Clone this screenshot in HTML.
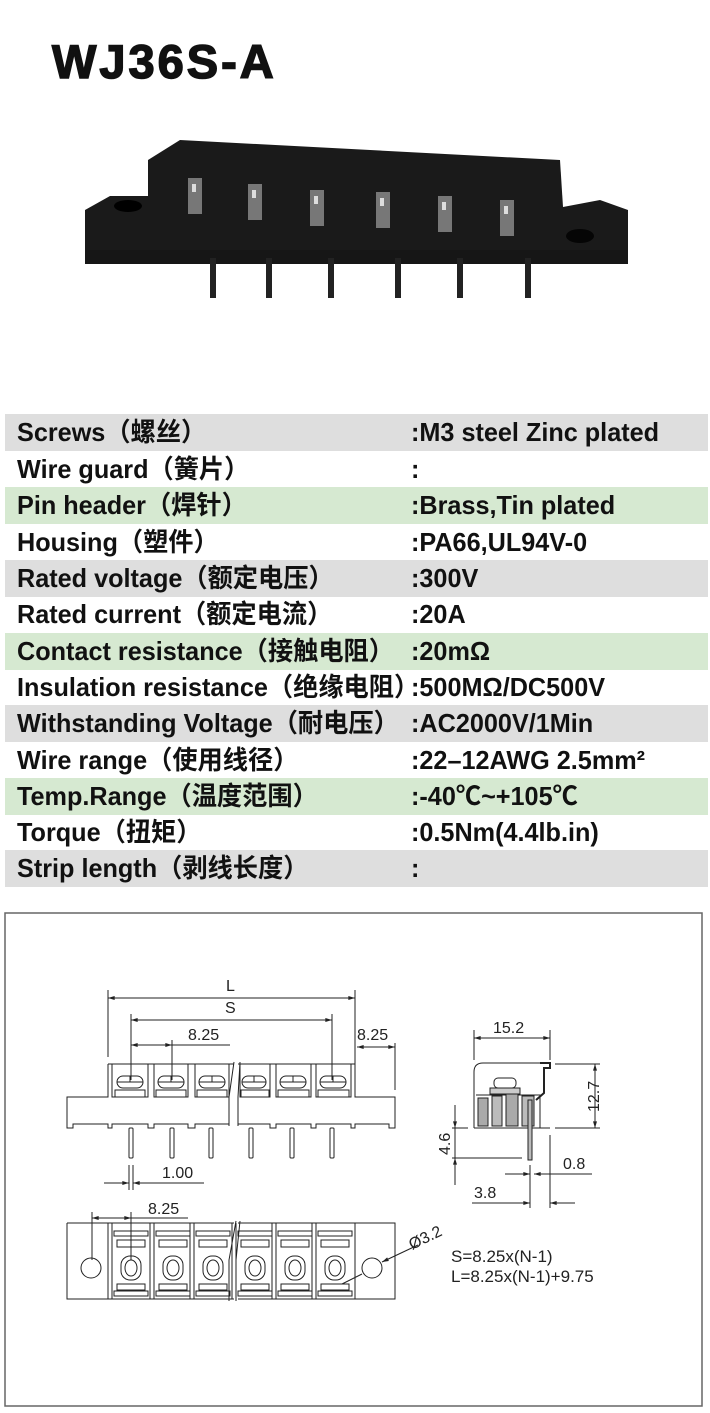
<!DOCTYPE html>
<html><head><meta charset="utf-8"><style>
body{margin:0;width:710px;height:1413px;background:#fff;position:relative;overflow:hidden;font-family:"Liberation Sans","Noto Sans CJK SC",sans-serif}
.t{position:absolute;left:52px;top:34px;font-weight:bold;font-size:47px;letter-spacing:3px;color:#111;-webkit-text-stroke:1.5px #111}
.row{position:absolute;left:5px;width:703px;height:37px;font-size:26px;color:#111}
.row span{position:absolute;top:0;line-height:37px;height:37px;white-space:nowrap;transform:scaleX(0.97);transform-origin:left;font-weight:bold}
.a{left:12px}.b{left:406px}
.g{background:#dedede}.n{background:#d6e9d1}
</style></head><body>
<div class="t">WJ36S-A</div>
<div class="row g" style="top:414px"><span class="a">Screws（螺丝）</span><span class="b">:M3 steel Zinc plated</span></div>
<div class="row" style="top:451px"><span class="a">Wire guard（簧片）</span><span class="b">:</span></div>
<div class="row n" style="top:487px"><span class="a">Pin header（焊针）</span><span class="b">:Brass,Tin plated</span></div>
<div class="row" style="top:524px"><span class="a">Housing（塑件）</span><span class="b">:PA66,UL94V-0</span></div>
<div class="row g" style="top:560px"><span class="a">Rated voltage（额定电压）</span><span class="b">:300V</span></div>
<div class="row" style="top:596px"><span class="a">Rated current（额定电流）</span><span class="b">:20A</span></div>
<div class="row n" style="top:633px"><span class="a">Contact resistance（接触电阻）</span><span class="b">:20mΩ</span></div>
<div class="row" style="top:669px"><span class="a">Insulation resistance（绝缘电阻）</span><span class="b">:500MΩ/DC500V</span></div>
<div class="row g" style="top:705px"><span class="a">Withstanding Voltage（耐电压）</span><span class="b">:AC2000V/1Min</span></div>
<div class="row" style="top:742px"><span class="a">Wire range（使用线径）</span><span class="b">:22–12AWG 2.5mm²</span></div>
<div class="row n" style="top:778px"><span class="a">Temp.Range（温度范围）</span><span class="b">:-40℃~+105℃</span></div>
<div class="row" style="top:814px"><span class="a">Torque（扭矩）</span><span class="b">:0.5Nm(4.4lb.in)</span></div>
<div class="row g" style="top:850px"><span class="a">Strip length（剥线长度）</span><span class="b">:</span></div>

<svg width="710" height="1413" style="position:absolute;left:0;top:0" xmlns="http://www.w3.org/2000/svg">
<defs><marker id="ar" viewBox="0 0 10 6" refX="10" refY="3" markerWidth="8" markerHeight="4" orient="auto-start-reverse"><path d="M0,0L10,3L0,6z" fill="#222"/></marker></defs>
<g fill="#1a1a1a">
<polygon points="85,210 110,196 148,196 148,207 563,207 600,200 628,210 628,263 85,263"/>
<polygon points="148,207 148,160 180,140 560,160 563,207"/>
<rect x="85" y="250" width="543" height="14" fill="#161616"/>
<g fill="#222"><rect x="210" y="258" width="6" height="40"/><rect x="266" y="258" width="6" height="40"/><rect x="328" y="258" width="6" height="40"/><rect x="395" y="258" width="6" height="40"/><rect x="457" y="258" width="6" height="40"/><rect x="525" y="258" width="6" height="40"/></g>
<ellipse cx="128" cy="206" rx="14" ry="6" fill="#000"/><ellipse cx="580" cy="236" rx="14" ry="7" fill="#050505"/>
</g>
<g fill="#777">
<rect x="188" y="178" width="14" height="36"/><rect x="248" y="184" width="14" height="36"/><rect x="310" y="190" width="14" height="36"/><rect x="376" y="192" width="14" height="36"/><rect x="438" y="196" width="14" height="36"/><rect x="500" y="200" width="14" height="36"/>
</g>
<g fill="#ddd"><rect x="192" y="184" width="4" height="8"/><rect x="252" y="190" width="4" height="8"/><rect x="314" y="196" width="4" height="8"/><rect x="380" y="198" width="4" height="8"/><rect x="442" y="202" width="4" height="8"/><rect x="504" y="206" width="4" height="8"/></g>

<rect x="5" y="913" width="697" height="493" fill="none" stroke="#666" stroke-width="1.5"/>
<g stroke="#222" stroke-width="1" fill="none" font-family="Liberation Sans,sans-serif">
<line x1="108" y1="990" x2="108" y2="1057"/><line x1="355" y1="990" x2="355" y2="1064"/>
<line x1="108" y1="998" x2="355" y2="998" marker-start="url(#ar)" marker-end="url(#ar)"/>
<line x1="131" y1="1014" x2="131" y2="1080"/><line x1="332" y1="1014" x2="332" y2="1080"/>
<line x1="131" y1="1020" x2="332" y2="1020" marker-start="url(#ar)" marker-end="url(#ar)"/>
<line x1="172" y1="1040" x2="172" y2="1080"/>
<line x1="131" y1="1045" x2="172" y2="1045" marker-start="url(#ar)" marker-end="url(#ar)"/><line x1="172" y1="1045" x2="230" y2="1045"/>
<line x1="395" y1="1043" x2="395" y2="1090"/>
<line x1="357" y1="1047" x2="395" y2="1047" marker-start="url(#ar)" marker-end="url(#ar)"/>
<path d="M108,1064V1097H67V1128H73V1124H108V1128H112V1124H148V1128H154V1124H188V1128H195V1124H229"/>
<path d="M238,1124H270V1128H276V1124H311V1128H316V1124H351V1128H355V1124H389V1128H395V1097H355V1064"/>
<path d="M108,1064H234 M238,1064H355"/>
<path d="M234,1062L229,1097V1126 M240,1062L238,1097V1126"/>
<g>
<rect x="112" y="1064" width="36" height="33"/><rect x="154" y="1064" width="34" height="33"/><rect x="195" y="1064" width="34" height="33"/>
<rect x="240" y="1064" width="30" height="33"/><rect x="276" y="1064" width="35" height="33"/><rect x="316" y="1064" width="35" height="33"/>
</g>
<g>
<rect x="117" y="1076" width="26" height="12" rx="6"/><line x1="117" y1="1082" x2="143" y2="1082"/><line x1="130" y1="1076" x2="130" y2="1082"/><rect x="115" y="1090" width="30" height="7"/>
<rect x="158" y="1076" width="26" height="12" rx="6"/><line x1="158" y1="1082" x2="184" y2="1082"/><line x1="171" y1="1076" x2="171" y2="1082"/><rect x="156" y="1090" width="30" height="7"/>
<rect x="199" y="1076" width="26" height="12" rx="6"/><line x1="199" y1="1082" x2="225" y2="1082"/><line x1="212" y1="1076" x2="212" y2="1082"/><rect x="197" y="1090" width="30" height="7"/>
<rect x="242" y="1076" width="24" height="12" rx="6"/><line x1="242" y1="1082" x2="266" y2="1082"/><line x1="254" y1="1076" x2="254" y2="1082"/><rect x="241" y="1090" width="28" height="7"/>
<rect x="280" y="1076" width="26" height="12" rx="6"/><line x1="280" y1="1082" x2="306" y2="1082"/><line x1="293" y1="1076" x2="293" y2="1082"/><rect x="278" y="1090" width="31" height="7"/>
<rect x="320" y="1076" width="26" height="12" rx="6"/><line x1="320" y1="1082" x2="346" y2="1082"/><line x1="333" y1="1076" x2="333" y2="1082"/><rect x="318" y="1090" width="31" height="7"/>
</g>
<g>
<rect x="129" y="1128" width="4" height="30" rx="1"/><rect x="170" y="1128" width="4" height="30" rx="1"/><rect x="209" y="1128" width="4" height="30" rx="1"/>
<rect x="249" y="1128" width="4" height="30" rx="1"/><rect x="290" y="1128" width="4" height="30" rx="1"/><rect x="330" y="1128" width="4" height="30" rx="1"/>
</g>
<line x1="129" y1="1165" x2="129" y2="1190"/><line x1="133" y1="1165" x2="133" y2="1190"/>
<line x1="104" y1="1183" x2="129" y2="1183" marker-end="url(#ar)"/><line x1="155" y1="1183" x2="133" y2="1183" marker-end="url(#ar)"/><line x1="155" y1="1183" x2="204" y2="1183"/>
<line x1="92" y1="1212" x2="92" y2="1260"/><line x1="131" y1="1212" x2="131" y2="1260"/>
<line x1="92" y1="1218" x2="131" y2="1218" marker-start="url(#ar)" marker-end="url(#ar)"/><line x1="131" y1="1218" x2="188" y2="1218"/>
<path d="M67,1223H234 M238,1223H395V1299H238 M234,1299H67V1223"/>
<path d="M236,1221L229,1260V1301 M240,1221L236,1260V1301"/>
<ellipse cx="91" cy="1268" rx="10" ry="10"/><ellipse cx="372" cy="1268" rx="10" ry="10"/>
<g id="c">
<line x1="108" y1="1223" x2="108" y2="1299"/><line x1="112" y1="1223" x2="112" y2="1299"/>
<rect x="114" y="1231" width="34" height="5"/><rect x="117" y="1240" width="28" height="7"/><rect x="117" y="1284" width="28" height="6"/><rect x="114" y="1291" width="34" height="5"/>
<rect x="121" y="1256" width="20" height="24" rx="9"/><ellipse cx="131" cy="1268" rx="6" ry="8"/>
</g>
<use href="#c" x="42"/><use href="#c" x="82"/><use href="#c" x="124" /><use href="#c" x="164"/><use href="#c" x="204"/>
<line x1="355" y1="1223" x2="355" y2="1299"/>
<line x1="418" y1="1245" x2="382" y2="1262" marker-end="url(#ar)"/><line x1="362" y1="1274" x2="342" y2="1284"/>
<line x1="474" y1="1030" x2="474" y2="1060"/><line x1="550" y1="1030" x2="550" y2="1060"/>
<line x1="474" y1="1038" x2="550" y2="1038" marker-start="url(#ar)" marker-end="url(#ar)"/>
<path d="M474,1128V1072Q474,1063 483,1063H540"/><line x1="474" y1="1128" x2="550" y2="1128"/>
<path d="M540,1063H550V1068H544V1093L536,1100" stroke-width="2"/>
<path d="M476,1095H540V1128" />
<rect x="478" y="1098" width="10" height="28" fill="#aaa" stroke="#222"/><rect x="492" y="1096" width="10" height="30" fill="#bbb"/><rect x="506" y="1092" width="12" height="34" fill="#aaa"/><rect x="522" y="1096" width="12" height="30" fill="#bbb"/>
<rect x="494" y="1078" width="22" height="10" rx="4"/><rect x="490" y="1088" width="30" height="6" fill="#ccc"/>
<rect x="528" y="1100" width="4" height="60" fill="#bbb"/>
<line x1="555" y1="1064" x2="600" y2="1064"/><line x1="555" y1="1128" x2="600" y2="1128"/>
<line x1="595" y1="1064" x2="595" y2="1128" marker-start="url(#ar)" marker-end="url(#ar)"/>
<line x1="455" y1="1105" x2="455" y2="1128" marker-end="url(#ar)"/><line x1="455" y1="1158" x2="455" y2="1185" marker-start="url(#ar)"/><line x1="455" y1="1128" x2="455" y2="1158"/>
<line x1="452" y1="1128" x2="468" y2="1128"/><line x1="452" y1="1158" x2="522" y2="1158"/>
<line x1="530" y1="1165" x2="530" y2="1208"/><line x1="550" y1="1135" x2="550" y2="1208"/>
<line x1="505" y1="1174" x2="530" y2="1174" marker-end="url(#ar)"/><line x1="592" y1="1174" x2="534" y2="1174" marker-end="url(#ar)"/>
<line x1="472" y1="1203" x2="530" y2="1203" marker-end="url(#ar)"/><line x1="575" y1="1203" x2="550" y2="1203" marker-end="url(#ar)"/>
</g>
<g font-family="Liberation Sans,sans-serif" font-size="16" fill="#222">
<text x="226" y="991">L</text><text x="225" y="1013">S</text>
<text x="188" y="1040">8.25</text><text x="357" y="1040">8.25</text>
<text x="162" y="1178">1.00</text><text x="148" y="1214">8.25</text>
<text x="493" y="1033">15.2</text>
<text x="0" y="0" transform="translate(599,1112) rotate(-90)">12.7</text>
<text x="0" y="0" transform="translate(450,1155) rotate(-90)">4.6</text>
<text x="563" y="1169">0.8</text><text x="474" y="1198">3.8</text>
<text x="0" y="0" transform="translate(412,1250) rotate(-26)">Ø3.2</text>
<text x="451" y="1262" font-size="17">S=8.25x(N-1)</text>
<text x="451" y="1282" font-size="17">L=8.25x(N-1)+9.75</text>
</g>
</svg>
</body></html>
